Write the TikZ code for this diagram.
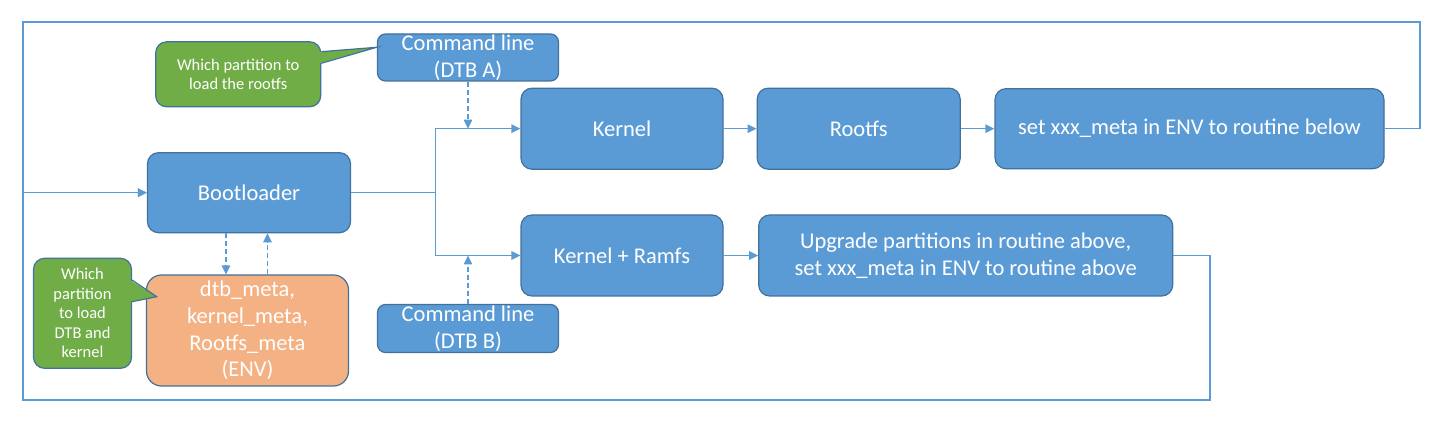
\documentclass[tikz,border=0pt]{standalone}
\usepackage{fontspec}
\setmainfont{Carlito}
\usetikzlibrary{arrows.meta,calc}
\definecolor{boxblue}{HTML}{5B9BD5}
\definecolor{edgeblue}{HTML}{41719C}
\definecolor{envorange}{HTML}{F4B183}
\definecolor{notegreen}{HTML}{70AD47}
\begin{document}
\begin{tikzpicture}[x=1pt,y=-1pt,
        box/.style={draw=edgeblue,line width=1.2pt,fill=boxblue,rounded corners=11pt,
            text=white,align=center,inner sep=0pt,font=\fontsize{22.5}{26.7}\selectfont},
        note/.style={box,fill=notegreen,font=\fontsize{16.5}{19.5}\selectfont},
        flow/.style={draw=boxblue,line width=1.5pt,-{Triangle[length=9pt,width=8.5pt]}},
        hint/.style={flow,dash pattern=on 5pt off 3pt}]
        \useasboundingbox (0,0) rectangle (1441,427);
        \coordinate (TL) at (23,22);
        \coordinate (TR) at (1420,22);
        \coordinate (BL) at (23,400);
        \coordinate (BR) at (1210,400);
        \coordinate (split) at (435.7,192.7);
        \node[box,minimum width=203pt,minimum height=80pt] (boot) at (249,192.7) {Bootloader};
        \node[box,minimum width=202pt,minimum height=81pt] (kernel) at (622,128.7) {Kernel};
        \node[box,minimum width=203pt,minimum height=81pt] (rootfs) at (858.7,128.7) {Rootfs};
        \node[box,minimum width=389pt,minimum height=80pt] (setenv) at (1189.5,128.7) {set xxx\_meta in ENV to routine below};
        \node[box,minimum width=202pt,minimum height=81pt] (ramfs) at (622,255.5) {Kernel + Ramfs};
        \node[box,minimum width=414pt,minimum height=81pt] (upgrade) at (965.7,255.5)
            {Upgrade partitions in routine above,\\set xxx\_meta in ENV to routine above};
        \node[box,fill=envorange,rounded corners=15pt,minimum width=202pt,minimum height=111pt] (env) at (247.5,330.5)
            {dtb\_meta,\\kernel\_meta,\\Rootfs\_meta\\(ENV)};
        \node[box,rounded corners=8pt,minimum width=181pt,minimum height=47pt] (cmda) at (468,57.5) {Command line\\(DTB A)};
        \node[box,rounded corners=8pt,minimum width=181pt,minimum height=48pt] (cmdb) at (468,328.5) {Command line\\(DTB B)};
        \node[note,minimum width=165pt,minimum height=65pt] (notea) at (238.2,74.3) {Which partition to\\load the rootfs};
        \node[note,minimum width=98pt,minimum height=110pt] (noteb) at (82.5,313.3) {Which\\partition\\to load\\DTB and\\kernel};
        \coordinate (tipa) at (376.7,47.3);
        \coordinate (tipb) at (156.7,296.7);
        \fill[notegreen] ($(notea.east)+(-2,-22.6)$) -- (tipa) -- ($(notea.east)+(-2,-11)$) -- cycle;
        \draw[edgeblue,line width=1.2pt] ($(notea.east)+(0,-22.6)$) -- (tipa) -- ($(notea.east)+(0,-11)$);
        \fill[notegreen] ($(noteb.east)+(-2,-33.3)$) -- (tipb) -- ($(noteb.east)+(-2,-11.6)$) -- cycle;
        \draw[edgeblue,line width=1.2pt] ($(noteb.east)+(0,-33.3)$) -- (tipb) -- ($(noteb.east)+(0,-11.6)$);
        \draw[flow] (kernel) -- (rootfs);
        \draw[flow] (rootfs) -- (setenv);
        \draw[flow] (ramfs) -- (upgrade);
        \draw[flow,-] (boot.east) -- (split);
        \foreach \n in {kernel,ramfs}
            \draw[flow] (split) |- (\n.west);
        \draw[flow] (setenv.east) -| (TR) -- (TL) |- (boot.west);
        \draw[flow] (upgrade.east) -| (BR) -- (BL) |- (boot.west);
        \draw[hint] (cmda.south) -- (cmda.south |- kernel.west);
        \draw[hint] (cmdb.north) -- (cmdb.north |- ramfs.west);
        \draw[hint] ([xshift=-23pt]boot.south) -- ([xshift=-23pt]boot.south |- env.north);
        \draw[hint] ([xshift=20pt]env.north) -- ([xshift=20pt]env.north |- boot.south);
    \end{tikzpicture}
\end{document}
